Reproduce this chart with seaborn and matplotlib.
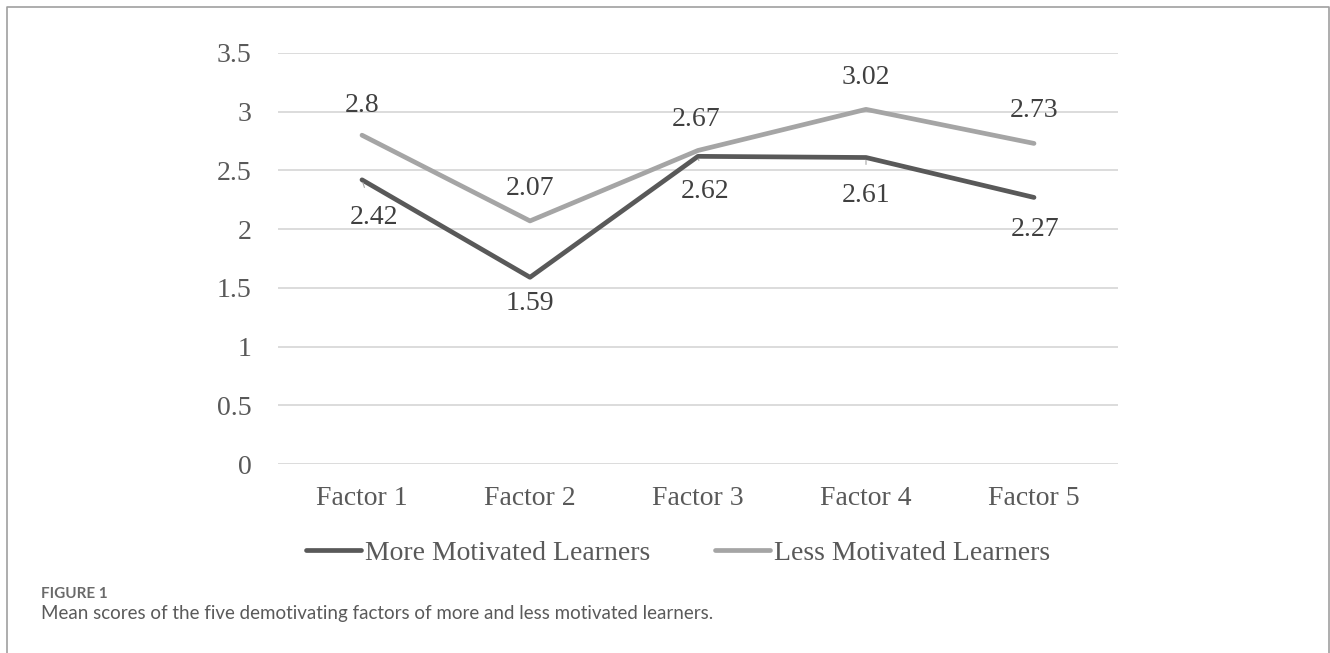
import matplotlib
matplotlib.use("Agg")
import matplotlib.pyplot as plt
from matplotlib.lines import Line2D
import seaborn as sns
import pandas as pd

# ---- data ----
factors = ["Factor 1", "Factor 2", "Factor 3", "Factor 4", "Factor 5"]
more_motivated = [2.42, 1.59, 2.62, 2.61, 2.27]
less_motivated = [2.80, 2.07, 2.67, 3.02, 2.73]
more_label_text = ["2.42", "1.59", "2.62", "2.61", "2.27"]
less_label_text = ["2.8", "2.07", "2.67", "3.02", "2.73"]
series_names = ["More Motivated Learners", "Less Motivated Learners"]
y_ticks = [0, 0.5, 1, 1.5, 2, 2.5, 3, 3.5]
y_tick_labels = ["0", "0.5", "1", "1.5", "2", "2.5", "3", "3.5"]
caption_head = "FIGURE 1"
caption_text = "Mean scores of the five demotivating factors of more and less motivated learners."

# label placement (pixel offsets), leader-line flags
more_offsets = [(12, -38), (0, -26), (7, -35), (0, -38), (1, -32)]
more_leader = [True, False, True, True, False]
less_offsets = [(0, 30), (0, 32), (-2, 31), (0, 32), (0, 33)]

df = pd.DataFrame({
    "Factor": factors * 2,
    "Score": more_motivated + less_motivated,
    "Group": [series_names[0]] * 5 + [series_names[1]] * 5,
})

W, H = 1330, 653
sns.set_theme(style="white")
plt.rcParams["font.family"] = ["Liberation Serif", "DejaVu Serif"]

fig = plt.figure(figsize=(W / 100, H / 100), dpi=100)
ax = fig.add_axes([278 / W, 1 - 464 / H, 840 / W, (464 - 53) / H])

dark = "#595959"
light = "#a5a5a5"
palette = {series_names[0]: dark, series_names[1]: light}

sns.lineplot(data=df, x="Factor", y="Score", hue="Group", palette=palette,
             sort=False, linewidth=3.4, ax=ax, legend=False,
             solid_capstyle="round", solid_joinstyle="round")

ax.set_xlim(-0.5, 4.5)
ax.set_ylim(0, 3.5)
ax.set_yticks(y_ticks)
ax.set_yticklabels(y_tick_labels)
ax.set_xlabel("")
ax.set_ylabel("")
for s in ax.spines.values():
    s.set_visible(False)
ax.grid(axis="y", color="#d9d9d9", linewidth=1.3)
ax.grid(axis="x", visible=False)
ax.set_axisbelow(True)
ax.tick_params(axis="y", length=0, pad=19, labelsize=20, labelcolor="#595959")
ax.tick_params(axis="x", length=0, pad=16, labelsize=20, labelcolor="#595959")

text_color = "#404040"
for i in range(5):
    dx, dy = less_offsets[i]
    ax.annotate(less_label_text[i], (i, less_motivated[i]), xytext=(dx, dy),
                textcoords="offset pixels", ha="center", va="center",
                fontsize=20, color=text_color)
    dx, dy = more_offsets[i]
    arrow = None
    if more_leader[i]:
        arrow = dict(arrowstyle="-", color="#a6a6a6", lw=0.8,
                     shrinkA=11, shrinkB=2)
    ax.annotate(more_label_text[i], (i, more_motivated[i]), xytext=(dx, dy),
                textcoords="offset pixels", ha="center", va="center",
                fontsize=20, color=text_color, arrowprops=arrow)

handles = [Line2D([], [], color=dark, lw=3.4, solid_capstyle="round"),
           Line2D([], [], color=light, lw=3.4, solid_capstyle="round")]
leg = fig.legend(handles, series_names, loc="center",
                 bbox_to_anchor=(678 / W, 1 - 553 / H), ncol=2, frameon=False,
                 fontsize=20, handlelength=2.0, handletextpad=0.15,
                 columnspacing=2.3)
for t in leg.get_texts():
    t.set_color("#595959")

# frame around the figure panel
frame_color = "#a0a0a0"
fig.add_artist(Line2D([6.5 / W, 6.5 / W, 1329 / W, 1329 / W],
                      [0, 1 - 6.5 / H, 1 - 6.5 / H, 0],
                      transform=fig.transFigure, color=frame_color, lw=1.2))

fig.text(41 / W, 1 - 594 / H, caption_head, family=["Lato", "DejaVu Sans"],
         fontsize=11, fontweight="bold", color="#6a6a6a", va="center", ha="left")
fig.text(41 / W, 1 - 614 / H, caption_text, family=["Lato", "DejaVu Sans"],
         fontsize=13.5, color="#5a5a5a", va="center", ha="left")

fig.savefig("out.png", dpi=100, facecolor="white")
